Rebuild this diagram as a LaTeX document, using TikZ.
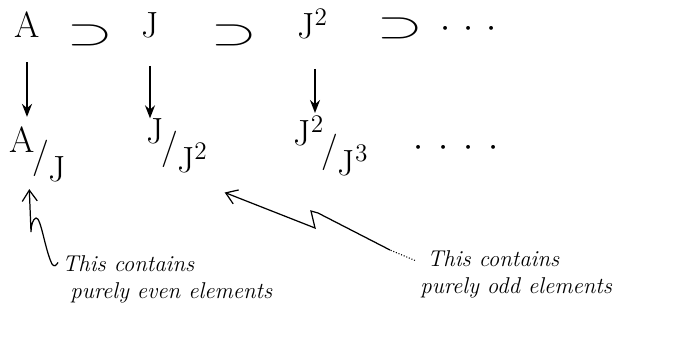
\documentclass[tikz,border=0pt]{standalone}
\usetikzlibrary{arrows.meta}
\newcommand{\quo}[2]{\raisebox{0.42em}{#1}\kern-0.06em/\kern-0.02em\raisebox{-0.38em}{#2}}
\newcommand{\wsup}{\scalebox{1.6}[1]{$\supset$}}
\begin{document}
\begin{tikzpicture}[
    term/.style={font=\huge, inner sep=0pt, anchor=base},
    quot/.style={font=\huge, inner sep=0pt},
    note/.style={font=\fontsize{13}{15}\selectfont\itshape, align=left, inner sep=0pt, anchor=base west},
    proj/.style={-{Stealth[length=0.26cm, width=0.2cm]}, line width=1.1pt},
    hint/.style={-{Straight Barb[length=0.22cm, width=0.3cm]}, line width=0.7pt}
]
\useasboundingbox (0,0) rectangle (13.88,-6.84);

% Chain of ideals
\node[term] (A)    at (0.54,-0.76) {A};
\node[term] (sup1) at (1.80,-0.88) {\wsup};
\node[term] (J)    at (3.00,-0.74) {J};
\node[term] (sup2) at (4.68,-0.88) {\wsup};
\node[term, anchor=base west] (J2) at (5.94,-0.78) {J$^{2}$};
\node[term] (sup3) at (8.00,-0.76) {\wsup};
\node[term] (dotsT) at (9.38,-0.74) {$\cdot$\hspace{0.26cm}$\cdot$\hspace{0.26cm}$\cdot$};

% Quotients
\node[quot] (qA)  at (0.76,-3.08) {\quo{A}{J}};
\node[quot] (qJ)  at (3.54,-2.92) {\quo{J}{J$^{2}$}};
\node[quot] (qJ2) at (6.62,-2.92) {\quo{J$^{2}$}{J$^{3}$}};
\node[quot] (dotsQ) at (9.12,-2.96) {$\cdot$\hspace{0.3cm}$\cdot$\hspace{0.3cm}$\cdot$\hspace{0.3cm}$\cdot$};

% Remarks
\node[note] (evenNote) at (1.24,-5.96) {This contains\\\hspace*{0.16cm}purely even elements};
\node[note] (oddNote)  at (8.40,-5.86) {\hspace*{0.14cm}This contains\\purely odd elements};

% Projections
\draw[proj, shorten <=0.48cm, shorten >=0.18cm] (A.south) -- (A.south |- qA.north);
\draw[proj, shorten <=0.56cm, shorten >=0.0cm] (J.south) -- (J.south |- qJ.north);
\draw[proj, shorten <=0.58cm, shorten >=0.06cm] ([xshift=0.36cm]J2.south west) -- ([xshift=0.36cm]J2.south west |- qJ2.north);

% Pointers
\coordinate (fade) at (7.80,-5.00);
\draw[hint, shorten >=0.14cm] ([shift={(-0.08,-0.14)}]evenNote.north west)
    .. controls (1.12,-5.32) and (1.08,-5.34) .. (1.04,-5.28)
    .. controls (0.90,-5.00) and (0.82,-4.34) .. (0.72,-4.36)
    .. controls (0.66,-4.38) and (0.62,-4.50) .. (0.62,-4.64)
    -- ([xshift=-0.18cm]qA.south);
\draw[densely dotted, line width=0.6pt] ([shift={(-0.1,-0.2)}]oddNote.north west) -- (fade);
\draw[hint, shorten >=0.1cm] (fade) -- (6.36,-4.26) -- (6.22,-4.22) -- (6.30,-4.56)
    -- ([shift={(0.24,-0.34)}]qJ.south east);
\end{tikzpicture}
\end{document}
